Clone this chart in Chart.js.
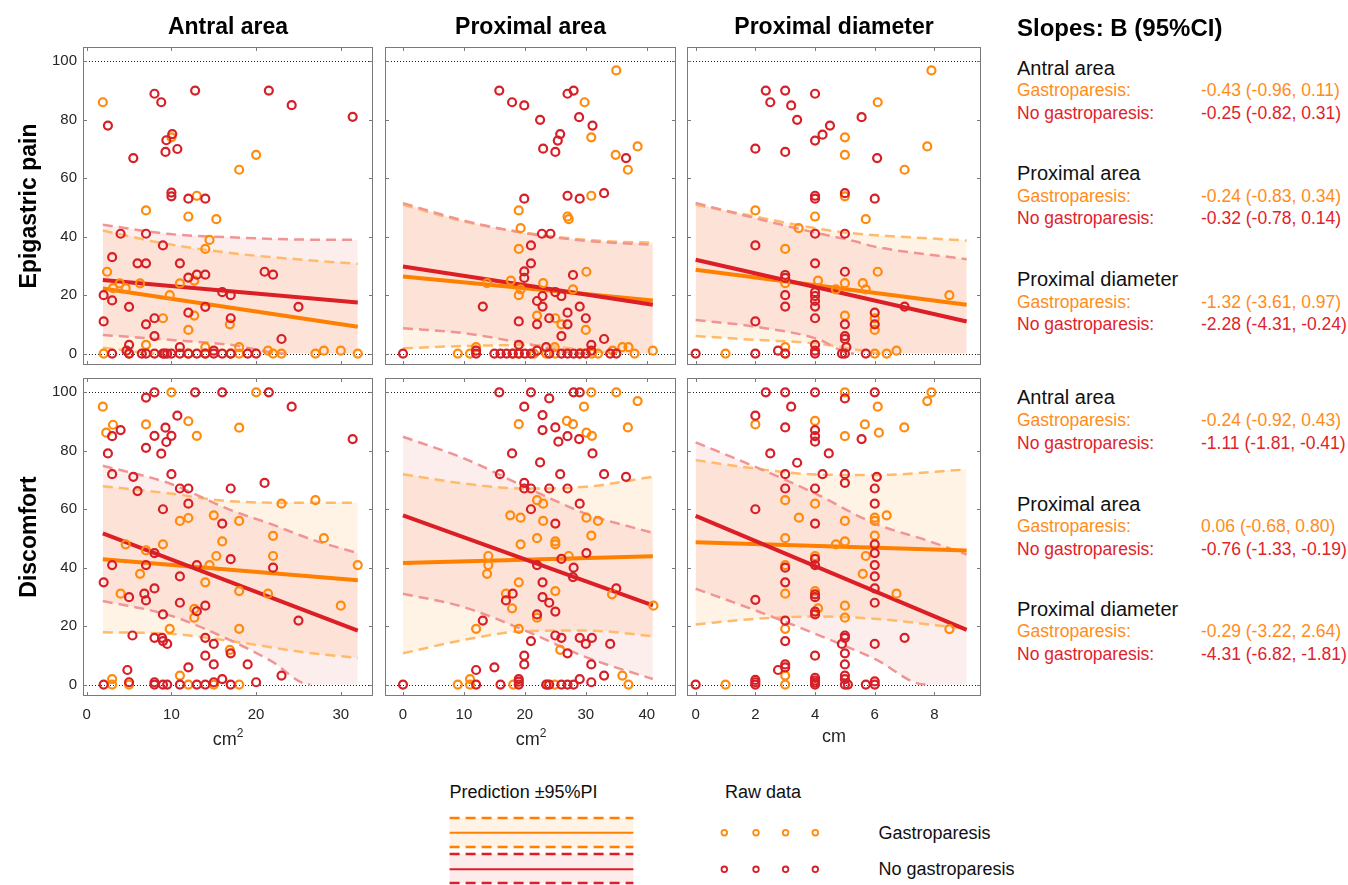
<!DOCTYPE html>
<html>
<head>
<meta charset="utf-8">
<script src="https://cdn.jsdelivr.net/npm/chart.js@4.4.0/dist/chart.umd.min.js"></script>
<style>
  body { margin: 0; background: #fff; width: 1348px; height: 885px; position: relative; overflow: hidden;
         font-family: "Liberation Sans", Arial, sans-serif; }
  canvas { position: absolute; }
  .t { position: absolute; white-space: nowrap; line-height: 1; color: #000; z-index: 5; }
  .rot { position: absolute; white-space: nowrap; line-height: 1; font-weight: bold; font-size: 23px;
         transform: translate(-50%, -50%) rotate(-90deg); z-index: 5; }
  svg { position: absolute; }
</style>
</head>
<body>
<script>
// tick values
const yTicks = [0, 20, 40, 60, 80, 100];
const antralTicks = [0, 10, 20, 30];
const proxAreaTicks = [0, 10, 20, 30, 40];
const proxDiamTicks = [0, 2, 4, 6, 8];

// raw data [x, score] -- epigastric pain
const painAntralGp = [[1.9,86],[10.0,74],[20.0,68],[18.0,62.9],[13.0,54],[7.0,49],[12.0,46.9],[15.3,46],[14.5,38.9],[14.0,35.8],
  [2.4,28],[12.7,25],[11.0,24],[6.3,24],[3.9,24],[3.1,22.4],[4.6,22.4],[9.8,20],[9.0,12.1],[12.7,13],[16.9,10],[12.0,8.1],
  [7.0,3],[14.0,2.2],[18.0,2.2],[21.4,1],[28.0,1],[30.0,1],
  [2.0,0],[5.0,0],[12.0,0],[14.0,0],[17.0,0],[18.0,0],[22.0,0],[23.0,0],[27.0,0],[32.0,0]];
const painAntralNoGp = [[2.5,78],[8.0,88.9],[8.8,86],[12.8,90],[21.5,90],[24.2,85],[31.4,81],[10.1,75.1],[9.4,73],[10.7,70],
  [9.3,69],[5.5,66.9],[10.0,55.1],[10.0,53.8],[12.0,53],[14.0,53],[4.0,41],[7.0,41],[9.0,37],[3.0,33],[6.0,30.9],[7.0,30.9],
  [11.0,30.9],[21.0,28],[22.0,27],[12.0,26],[13.0,27],[14.0,27],[2.0,20],[16.0,21],[17.0,20],[3.0,18.2],[5.0,16],[14.0,16],
  [25.0,16],[8.0,12.1],[12.0,14],[17.0,12.1],[2.0,11],[7.0,10],[8.0,6],[23.0,5],[5.0,3],[4.7,1],[11.0,2.2],[15.0,1],
  [3.0,0],[5.0,0],[6.5,0],[7.0,0],[8.0,0],[9.0,0],[9.2,0],[9.5,0],[10.0,0],[11.0,0],[12.0,0],[13.0,0],[14.0,0],[15.0,0],
  [16.0,0],[17.0,0],[19.0,0],[20.0,0]];
const painProxAreaGp = [[35.0,96.9],[29.8,86],[30.9,74],[38.5,70.9],[34.9,68],[36.9,62.9],[19.0,49],[30.9,54],[27.0,46.9],
  [27.2,46],[19.3,42.9],[19.0,35.8],[30.1,28],[13.8,24.1],[17.7,25],[23.0,24.1],[19.3,22],[27.9,22],[19.0,20],[22.0,13],
  [25.0,12.1],[26.0,10],[30.0,8.1],[24.9,2.2],[12.0,2.2],[36.0,2.2],[37.0,2.2],[41.0,1],[34.4,1],
  [9,0],[11,0],[18,0],[19,0],[21.5,0],[23.5,0],[25,0],[29,0],[31,0],[32,0],[38,0]];
const painProxAreaNoGp = [[0,0],[15.8,90],[17.9,86],[19.9,84.9],[22.5,80],[27.0,88.9],[28.0,90],[28.9,80.9],[31.1,78],[25.8,75.1],
  [25.4,72.9],[23.0,70.1],[25.0,69],[36.6,66.9],[19.9,53],[27.0,54],[29.0,53],[33.0,54.9],[22.8,41],[24.2,41],[21.0,37],
  [21.0,30.9],[19.9,28.1],[19.9,25.9],[27.9,26.9],[25.0,21],[26.0,19.7],[22.9,19.7],[22.0,18],[22.9,16.1],[29.0,16.1],
  [13.1,16.1],[24.0,12.1],[27.0,14],[30.0,12.1],[19.0,11],[22.0,10],[27.0,10],[26.0,6],[33.0,5],[19.0,3],[30.9,3],[23.5,2.2],
  [12.0,1],[22.0,1],[30.9,1],
  [12,0],[15,0],[16,0],[17,0],[18,0],[19,0],[20,0],[21,0],[24,0],[26,0],[27,0],[28,0],[29,0],[30,0],[34,0],[35,0]];
const painProxDiamGp = [[1,0],[7.9,96.9],[6.1,86],[5.0,74],[7.76,70.9],[5.0,68],[7.0,62.9],[5.0,53.8],[2.0,49],[4.0,46.9],
  [5.7,46],[3.45,42.9],[3.0,35.8],[3.0,24.1],[6.1,28],[4.1,25],[5.0,24.1],[5.6,24.1],[5.7,22],[4.7,22],[8.5,20],[5.0,13],
  [6.0,12.1],[6.0,8.1],[3.0,2.2],[6.73,1],[3,0],[6,0],[6.4,0]];
const painProxDiamNoGp = [[0,0],[2,0],[2.35,90],[3.0,90],[4.0,88.9],[2.5,86],[3.2,84.9],[3.4,80],[4.5,78],[4.25,74.9],[4.0,72.9],
  [5.56,80.9],[6.08,66.9],[2.0,70.1],[3.0,69],[4.0,54],[4.0,53],[5.0,54.9],[6.0,53],[4.0,41],[5.0,41],[2.0,37],[4.0,30.9],
  [3.0,26.9],[3.0,25.9],[5.0,28],[4.0,21],[4.0,19.7],[4.0,18],[4.0,16.1],[4.0,12.1],[3.0,20],[3.0,16.1],[2.0,11],[7.0,16.1],
  [5.0,10],[5.0,6],[5.0,5],[5.05,2.2],[6.0,14],[6.0,10],[2.76,1],[4.0,3],[4.0,1],[3,0],[4,0],[4.9,0],[5,0],[5.7,0]];

// raw data [x, score] -- discomfort
const discAntralGp = [[1.9,95.1],[2.3,86.2],[3.1,88.9],[10.0,100],[20.0,100],[7.0,89],[12.0,90.1],[13.0,85.1],[18.0,87.9],
  [23.0,61.9],[27.0,63.1],[11.0,56],[12.0,57],[15.0,57.9],[18.0,56],[22.0,50.9],[28.0,50.1],[16.0,49],[9.0,48],[4.6,48],
  [7.0,45.9],[6.3,37.9],[15.3,44],[14.5,40.9],[22.0,44],[32.0,40.9],[14.0,35],[4.0,31.1],[18.0,32],[21.4,31.1],[12.7,25.9],
  [12.7,22.9],[30.0,27],[9.8,19.1],[18.0,19.1],[16.9,11.9],[11.0,3.1],[3.0,1.9],[3,0],[5,0],[12,0],[15,0],[18,0]];
const discAntralNoGp = [[3.0,85],[4.0,87.1],[2.5,79.1],[3.0,72],[7.0,98.2],[8.0,100],[12.8,100],[16.0,100],[21.5,100],[24.2,95.1],
  [31.4,84],[10.7,92],[9.3,87.9],[10.0,85.1],[8.0,85.1],[9.4,83],[7.0,81],[8.8,79],[10.0,72],[5.5,71.1],[6.0,66.2],[11.0,67.1],
  [12.0,67.1],[17.0,67.1],[21.0,69],[12.0,61.9],[9.0,60],[16.0,55.1],[8.0,45],[7.0,40.9],[3.0,40.9],[13.0,40.9],[17.0,42.9],
  [22.0,40],[11.0,37],[2.0,35],[5.0,29.9],[6.8,31.1],[7.0,28.8],[8.0,32.9],[11.0,28],[13.0,25.1],[14.0,27],[9.0,24],[5.4,16.8],
  [25.0,21.9],[8.0,16],[8.9,16],[9.0,14.9],[9.5,13.9],[14.0,16],[15.0,13.9],[17.0,10.7],[14.0,9.9],[15.0,6.9],[19.0,6.9],
  [12.0,5.9],[4.8,5],[23.0,3.1],[16.0,1.9],[20.0,0.8],[5.0,0.8],[8.0,0.8],[15.0,0.8],
  [2,0],[8,0],[9,0],[9.5,0],[11,0],[13,0],[14,0],[17,0]];
const discProxAreaGp = [[30.9,100],[35.0,100],[38.5,97],[29.7,95.1],[19.0,89.1],[26.9,90.2],[27.9,89.1],[36.9,88],[30.1,86.2],
  [31.0,85.1],[22.0,63.1],[23.0,61.9],[17.6,57.9],[19.3,57.1],[23.0,56],[30.1,57.1],[32.0,56],[30.9,51],[22.0,50.1],[25.0,49],
  [25.0,48],[19.3,48],[27.2,44],[14.0,44],[14.0,40.9],[13.8,37.9],[19.0,35],[25.0,32],[34.3,30.9],[16.9,31.1],[17.9,26.1],
  [22.0,22.9],[41.1,27],[12.0,19.1],[19.0,19.1],[25.8,11.9],[36.0,3.1],[11.0,1.9],
  [9,0],[11,0],[18.1,0],[23.7,0],[24.9,0],[37,0]];
const discProxAreaNoGp = [[0,0],[15.8,100],[21.0,100],[24.0,97.9],[28.0,100],[29.0,100],[19.9,95.1],[22.9,92.2],[22.9,87.1],[25.0,88],
  [27.0,85],[25.5,83.1],[28.9,84],[31.1,79.1],[17.9,79.1],[22.5,76],[15.9,72],[25.8,72],[33.0,72],[36.6,71.1],[19.9,69],
  [19.9,67.1],[21.0,67.1],[24.0,67.1],[27.0,67.1],[29.0,61.9],[21.0,60],[25.0,55.1],[30.1,45],[26.0,43],[22.0,40.9],[28.0,40],
  [27.9,36.8],[22.9,35],[35.0,32.9],[18.0,31.1],[16.9,28.8],[22.9,29.9],[24.0,28],[25.0,25],[22.0,24],[13.1,21.9],[25.0,16.8],
  [26.0,16],[29.0,16],[31.0,16],[30.0,13.9],[34.0,13.9],[21.0,14.9],[27.0,10.7],[19.9,9.9],[19.9,6.9],[15.0,5.9],[12.0,5],
  [30.9,6.9],[33.0,3.1],[19.0,1.9],[29.0,1.9],[30.9,0.8],
  [12,0],[16,0],[19,0],[19,1],[23.5,0],[24,0],[26,0],[27,0],[28,0]];
const discProxDiamGp = [[1,0],[5.0,100],[7.9,100],[7.76,97],[6.1,95.1],[2.0,89],[4.0,90.2],[5.67,89],[6.14,86.2],[6.99,88],[5.0,85],
  [3.0,63.1],[4.0,61.9],[3.46,57.1],[6.4,57.9],[6.0,57.1],[6.0,56],[5.0,56],[6.0,51],[3.0,50.1],[5.0,49],[4.7,48],[5.7,44],
  [4.0,44],[3.0,40.9],[5.6,37.9],[3.0,31.1],[6.73,31.1],[4.0,32],[5.0,27],[4.1,26.1],[5.0,22.9],[3.0,19.1],[8.5,19],[3.0,3.1],[3,0]];
const discProxDiamNoGp = [[0,0],[2,0],[2,0.8],[2,1.6],[2.35,100],[3.0,100],[4.0,100],[5.0,97.9],[6.0,100],[3.2,95.1],[2.0,92],
  [3.0,88],[4.0,87.1],[4.0,85],[4.0,83.1],[5.56,84],[2.5,79.1],[3.4,75.9],[4.46,79.1],[3.0,72],[4.25,72],[5.0,72],[5.0,69],
  [6.07,71.1],[3.0,67.1],[4.0,67.1],[6.0,67.1],[6.0,61.9],[2.0,60],[4.0,55.1],[6.0,48],[6.0,45],[4.0,43],[4.0,40.9],[3.0,40],
  [6.0,40.9],[6.0,37],[3.0,35],[6.0,32.9],[4.0,30.9],[4.0,29.9],[2.0,29],[6.0,28],[4.0,25],[4.0,24],[3.0,21.9],[3.0,14.9],
  [5.0,16.8],[5.0,16],[7.0,16],[4.9,13.9],[6.0,13.9],[5.0,10.7],[4.0,9.9],[5.0,6.9],[3.0,6.9],[3.0,5.9],[2.76,5],[4.0,2.3],
  [4.0,1.4],[5.0,3.1],[5.0,1.9],[6.0,1.1],[4,0],[5,0],[5.1,0],[5.7,0],[6,0],[4,0.7]];

// fitted predictions [x, y] at both ends
const painAntralGpFit = [[1.9,22.3],[32,9.2]];
const painAntralNoGpFit = [[1.9,25.2],[32,17.5]];
const painProxAreaGpFit = [[0,26.4],[41,18.2]];
const painProxAreaNoGpFit = [[0,29.8],[41,16.7]];
const painProxDiamGpFit = [[0,28.7],[9.08,16.7]];
const painProxDiamNoGpFit = [[0,32.1],[9.08,11.0]];
const discAntralGpFit = [[1.9,42.9],[32,35.7]];
const discAntralNoGpFit = [[1.9,51.7],[32,18.5]];
const discProxAreaGpFit = [[0,41.6],[41,43.9]];
const discProxAreaNoGpFit = [[0,57.9],[41,27.1]];
const discProxDiamGpFit = [[0,48.7],[9.08,45.9]];
const discProxDiamNoGpFit = [[0,57.7],[9.08,18.7]];

// 95% prediction interval [x, upper, lower]; lower read as 0 once it leaves the plot
const painAntralGpPI = [[1.9,42.1,2.0],[5,40.2,1.0],[8,38.3,0],[17,34.4,0],[25.6,32.1,0],[32,30.7,0]];
const painAntralNoGpPI = [[1.9,44.1,6.4],[9.8,40.9,4.7],[17,39.8,3.0],[23.6,39.1,0],[32,38.9,0]];
const painProxAreaGpPI = [[0,50.9,1.8],[10,45.2,2.6],[20,41.4,2.9],[30,38.9,1.3],[35,38.3,0],[41,38.0,0]];
const painProxAreaNoGpPI = [[0,51.5,8.7],[10,45.5,7.0],[20,41.2,3.5],[30,38.6,0],[41,37.2,0]];
const painProxDiamGpPI = [[0,50.9,6.0],[2,46.9,4.7],[4,42.9,3.5],[5.6,40.8,1.0],[6.2,40.4,0],[9.08,38.7,0]];
const painProxDiamNoGpPI = [[0,51.5,11.5],[2,46.3,9.2],[4,41.4,5.3],[5.3,38.5,0],[6,36.6,0],[9.08,32.3,0]];
const discAntralGpPI = [[1.9,67.9,17.9],[9.8,65.4,17.4],[17,62.7,14.9],[25.6,62.2,11.1],[32,62.2,9.1]];
const discAntralNoGpPI = [[1.9,74.9,28.6],[9.8,68.8,23.7],[17,59.7,15.1],[21.7,55.0,8.2],[26.4,49.8,0],[32,45.0,0]];
const discProxAreaGpPI = [[0,72.0,10.7],[10,68.8,15.3],[20,67.1,18.3],[30,67.7,18.5],[41,71.1,16.6]];
const discProxAreaNoGpPI = [[0,84.8,31.1],[10,77.4,26.5],[20,67.7,18.5],[30,58.5,9.4],[41,51.9,1.9]];
const discProxDiamGpPI = [[0,76.8,20.6],[2,73.9,22.5],[4,71.9,23.3],[6,71.7,22.5],[9.08,73.6,19.1]];
const discProxDiamNoGpPI = [[0,82.9,32.8],[2,74.5,25.4],[4,65.4,17.4],[6,55.1,8.8],[7.7,49.5,0],[9.08,44.5,0]];

// slopes text
const slopeTitles = ['Antral area', 'Proximal area', 'Proximal diameter'];
const slopesPainGp = ['-0.43 (-0.96, 0.11)', '-0.24 (-0.83, 0.34)', '-1.32 (-3.61, 0.97)'];
const slopesPainNoGp = ['-0.25 (-0.82, 0.31)', '-0.32 (-0.78, 0.14)', '-2.28 (-4.31, -0.24)'];
const slopesDiscGp = ['-0.24 (-0.92, 0.43)', '0.06 (-0.68, 0.80)', '-0.29 (-3.22, 2.64)'];
const slopesDiscNoGp = ['-1.11 (-1.81, -0.41)', '-0.76 (-1.33, -0.19)', '-4.31 (-6.82, -1.81)'];

const ORANGE = '#ff8a0d', RED = '#d61f27';
const ORANGE_LINE = '#ff8000', RED_LINE = '#dc1f26';
const ORANGE_DASH = '#ffbb6b', RED_DASH = '#f09494';
const ORANGE_FILL = 'rgba(255,140,0,0.10)', RED_FILL = 'rgba(230,40,40,0.08)';
const ORANGE_TXT = '#ff8c1a', RED_TXT = '#e0232b';

Chart.defaults.font.family = '"Liberation Sans", Arial, sans-serif';

const cols = [{l: 83, r: 373}, {l: 385, r: 676}, {l: 687, r: 981}];
const rows = [{t: 47, b: 365}, {t: 378, b: 696}];

const panels = [
  {col: 0, row: 0, xMin: -0.44, xMax: 33.8, xTicks: antralTicks, gp: painAntralGp, nogp: painAntralNoGp,
   gpFit: painAntralGpFit, nogpFit: painAntralNoGpFit, gpPI: painAntralGpPI, nogpPI: painAntralNoGpPI},
  {col: 1, row: 0, xMin: -2.95, xMax: 44.8, xTicks: proxAreaTicks, gp: painProxAreaGp, nogp: painProxAreaNoGp,
   gpFit: painProxAreaGpFit, nogpFit: painProxAreaNoGpFit, gpPI: painProxAreaGpPI, nogpPI: painProxAreaNoGpPI},
  {col: 2, row: 0, xMin: -0.29, xMax: 9.56, xTicks: proxDiamTicks, gp: painProxDiamGp, nogp: painProxDiamNoGp,
   gpFit: painProxDiamGpFit, nogpFit: painProxDiamNoGpFit, gpPI: painProxDiamGpPI, nogpPI: painProxDiamNoGpPI},
  {col: 0, row: 1, xMin: -0.44, xMax: 33.8, xTicks: antralTicks, gp: discAntralGp, nogp: discAntralNoGp,
   gpFit: discAntralGpFit, nogpFit: discAntralNoGpFit, gpPI: discAntralGpPI, nogpPI: discAntralNoGpPI},
  {col: 1, row: 1, xMin: -2.95, xMax: 44.8, xTicks: proxAreaTicks, gp: discProxAreaGp, nogp: discProxAreaNoGp,
   gpFit: discProxAreaGpFit, nogpFit: discProxAreaNoGpFit, gpPI: discProxAreaGpPI, nogpPI: discProxAreaNoGpPI},
  {col: 2, row: 1, xMin: -0.29, xMax: 9.56, xTicks: proxDiamTicks, gp: discProxDiamGp, nogp: discProxDiamNoGp,
   gpFit: discProxDiamGpFit, nogpFit: discProxDiamNoGpFit, gpPI: discProxDiamGpPI, nogpPI: discProxDiamNoGpPI},
];

function xy(arr) { return arr.map(p => ({x: p[0], y: p[1]})); }
function piSide(pi, k) { return pi.map(p => ({x: p[0], y: p[k]})); }

function buildDatasets(p) {
  const ds = [];
  // first dataset is drawn on top
  const pts = (data, color) => ({
    data: xy(data), showLine: false, pointRadius: 4, pointBorderWidth: 2.2,
    pointBorderColor: color, pointBackgroundColor: 'rgba(0,0,0,0)'
  });
  const fit = (data, color) => ({ data: xy(data), borderColor: color, borderWidth: 4, pointRadius: 0, borderCapStyle: 'butt' });
  ds.push(pts(p.nogp, RED));
  ds.push(pts(p.gp, ORANGE));
  ds.push(fit(p.nogpFit, RED_LINE));
  ds.push(fit(p.gpFit, ORANGE_LINE));
  const band = (pi, color, fillColor) => {
    const common = { borderWidth: 2.5, borderDash: [10, 6], pointRadius: 0, cubicInterpolationMode: 'monotone' };
    // dashed upper and lower bounds (lower hidden where it sits on the floor)
    ds.push(Object.assign({ data: piSide(pi, 1), borderColor: color, fill: false }, common));
    ds.push(Object.assign({ data: piSide(pi, 2), borderColor: color, fill: false,
      segment: { borderColor: c => (c.p0.parsed.y <= 0 && c.p1.parsed.y <= 0) ? 'rgba(0,0,0,0)' : color } }, common));
    // shaded band: invisible copy of the upper bound filled down to an invisible copy of the lower bound
    const idx = ds.length;
    ds.push({ data: piSide(pi, 1), borderWidth: 0, borderColor: 'rgba(0,0,0,0)', pointRadius: 0,
              cubicInterpolationMode: 'monotone', fill: idx + 1, backgroundColor: fillColor });
    ds.push({ data: piSide(pi, 2), borderWidth: 0, borderColor: 'rgba(0,0,0,0)', pointRadius: 0,
              cubicInterpolationMode: 'monotone', fill: false });
  };
  band(p.nogpPI, RED_DASH, RED_FILL);
  band(p.gpPI, ORANGE_DASH, ORANGE_FILL);
  return ds;
}

function framePlugin(xTicks) {
  return {
    id: 'frame',
    beforeDatasetsDraw(chart) {
      const {ctx, chartArea: a, scales: {y}} = chart;
      ctx.save();
      ctx.strokeStyle = '#222';
      ctx.lineWidth = 1;
      ctx.setLineDash([1, 2]);
      [0, 100].forEach(v => {
        const py = Math.round(y.getPixelForValue(v)) + 0.5;
        ctx.beginPath(); ctx.moveTo(a.left, py); ctx.lineTo(a.right, py); ctx.stroke();
      });
      ctx.restore();
    },
    afterDatasetsDraw(chart) {
      const {ctx, chartArea: a, scales: {x, y}} = chart;
      ctx.save();
      ctx.strokeStyle = '#7a7a7a';
      ctx.lineWidth = 1;
      ctx.strokeRect(Math.round(a.left) + 0.5, Math.round(a.top) + 0.5,
                     Math.round(a.right - a.left) - 1, Math.round(a.bottom - a.top) - 1);
      ctx.beginPath();
      xTicks.forEach(v => {
        const px = Math.round(x.getPixelForValue(v)) + 0.5;
        ctx.moveTo(px, a.bottom); ctx.lineTo(px, a.bottom - 4);
        ctx.moveTo(px, a.top); ctx.lineTo(px, a.top + 4);
      });
      yTicks.forEach(v => {
        const py = Math.round(y.getPixelForValue(v)) + 0.5;
        ctx.moveTo(a.left, py); ctx.lineTo(a.left + 4, py);
        ctx.moveTo(a.right, py); ctx.lineTo(a.right - 4, py);
      });
      ctx.stroke();
      ctx.restore();
    }
  };
}

const tickFont = {size: 15};
panels.forEach((p, i) => {
  const c = cols[p.col], r = rows[p.row];
  const showY = p.col === 0, showX = p.row === 1;
  const padL = showY ? 50 : 10, padR = 10, padT = 20, padB = showX ? 35 : 20;
  const cv = document.createElement('canvas');
  const w = (c.r - c.l) + padL + padR, h = (r.b - r.t) + padT + padB;
  cv.width = w; cv.height = h;
  cv.style.width = w + 'px'; cv.style.height = h + 'px';
  cv.style.left = (c.l - padL) + 'px'; cv.style.top = (r.t - padT) + 'px';
  document.body.appendChild(cv);

  const xScale = {
    type: 'linear', min: p.xMin, max: p.xMax, display: showX,
    afterBuildTicks: s => { s.ticks = p.xTicks.map(v => ({value: v})); },
    grid: {display: false, drawTicks: false}, border: {display: false},
    ticks: {padding: 10, font: tickFont, color: '#262626', maxRotation: 0, autoSkip: false}
  };
  if (showX) xScale.afterFit = s => { s.height = 35; };
  const yScale = {
    type: 'linear', min: -3.9, max: 104.9, display: showY,
    afterBuildTicks: s => { s.ticks = yTicks.map(v => ({value: v})); },
    grid: {display: false, drawTicks: false}, border: {display: false},
    ticks: {padding: 6, font: tickFont, color: '#262626', autoSkip: false}
  };
  if (showY) yScale.afterFit = s => { s.width = 50; };

  new Chart(cv.getContext('2d'), {
    type: 'line',
    data: { datasets: buildDatasets(p) },
    options: {
      responsive: false, animation: false, events: [], devicePixelRatio: 1,
      layout: { autoPadding: false,
                padding: {left: showY ? 0 : padL, right: padR, top: padT, bottom: showX ? 0 : padB} },
      plugins: { legend: {display: false}, tooltip: {enabled: false},
                 filler: {drawTime: 'beforeDatasetsDraw'} },
      scales: { x: xScale, y: yScale }
    },
    plugins: [framePlugin(p.xTicks)]
  });
});

// ----- text -----
function addText(html, x, base, size, opt = {}) {
  const d = document.createElement('div');
  d.className = 't';
  d.innerHTML = html;
  d.style.left = x + 'px';
  d.style.top = (base - 0.8465 * size) + 'px';
  d.style.fontSize = size + 'px';
  if (opt.bold) d.style.fontWeight = 'bold';
  if (opt.color) d.style.color = opt.color;
  if (opt.center) d.style.transform = 'translateX(-50%)';
  document.body.appendChild(d);
}
function addRot(txt, cx, cy) {
  const d = document.createElement('div');
  d.className = 'rot';
  d.textContent = txt;
  d.style.left = cx + 'px';
  d.style.top = cy + 'px';
  document.body.appendChild(d);
}

addText('Antral area', 228, 34, 23, {bold: true, center: true});
addText('Proximal area', 530.5, 34, 23, {bold: true, center: true});
addText('Proximal diameter', 834, 34, 23, {bold: true, center: true});
addRot('Epigastric pain', 28, 206);
addRot('Discomfort', 28, 537);

const sup = '<span style="font-size:12px;position:relative;top:-8px">2</span>';
addText('cm' + sup, 228, 745, 18, {center: true, color: '#262626'});
addText('cm' + sup, 531, 745, 18, {center: true, color: '#262626'});
addText('cm', 834, 742, 18, {center: true, color: '#262626'});

addText('Slopes: B (95%CI)', 1017, 36, 24, {bold: true});
const headBase = [75, 180.2, 286.3, 404.4, 510.5, 616];
const gpVals = slopesPainGp.concat(slopesDiscGp);
const noGpVals = slopesPainNoGp.concat(slopesDiscNoGp);
headBase.forEach((b, i) => {
  addText(slopeTitles[i % 3], 1017, b, 20, {color: '#111'});
  addText('Gastroparesis:', 1017, b + 22.3, 17.5, {color: ORANGE_TXT});
  addText(gpVals[i], 1201, b + 22.3, 17.5, {color: ORANGE_TXT});
  addText('No gastroparesis:', 1017, b + 45, 17.5, {color: RED_TXT});
  addText(noGpVals[i], 1201, b + 45, 17.5, {color: RED_TXT});
});

// ----- legend -----
addText('Prediction &plusmn;95%PI', 449.6, 798, 18, {color: '#111'});
addText('Raw data', 725, 798, 18, {color: '#111'});
addText('Gastroparesis', 878.5, 839, 18, {color: '#111'});
addText('No gastroparesis', 878.5, 875.7, 18, {color: '#111'});

const NS = 'http://www.w3.org/2000/svg';
const svg = document.createElementNS(NS, 'svg');
svg.setAttribute('width', 420); svg.setAttribute('height', 80);
svg.style.left = '440px'; svg.style.top = '805px';
function el(tag, attrs) {
  const e = document.createElementNS(NS, tag);
  for (const k in attrs) e.setAttribute(k, attrs[k]);
  svg.appendChild(e);
}
const sx0 = 9.6, sx1 = 193.4;
el('rect', {x: sx0, y: 13, width: sx1 - sx0, height: 29, fill: '#fff3e6'});
el('rect', {x: sx0, y: 49, width: sx1 - sx0, height: 29, fill: '#fdecec'});
[[13, ORANGE_LINE, true], [42, ORANGE_LINE, true], [27.7, ORANGE_LINE, false],
 [49, RED_LINE, true], [78, RED_LINE, true], [64.3, RED_LINE, false]].forEach(([y, col, dash]) => {
  el('line', {x1: sx0, x2: sx1, y1: y, y2: y, stroke: col, 'stroke-width': dash ? 2.5 : 2,
              'stroke-dasharray': dash ? '10 6' : 'none'});
});
[284.3, 316, 345.6, 375.3].forEach(x => {
  el('circle', {cx: x, cy: 27.7, r: 2.8, fill: 'none', stroke: ORANGE, 'stroke-width': 1.8});
  el('circle', {cx: x, cy: 64.3, r: 2.8, fill: 'none', stroke: RED, 'stroke-width': 1.8});
});
document.body.appendChild(svg);
</script>
</body>
</html>
